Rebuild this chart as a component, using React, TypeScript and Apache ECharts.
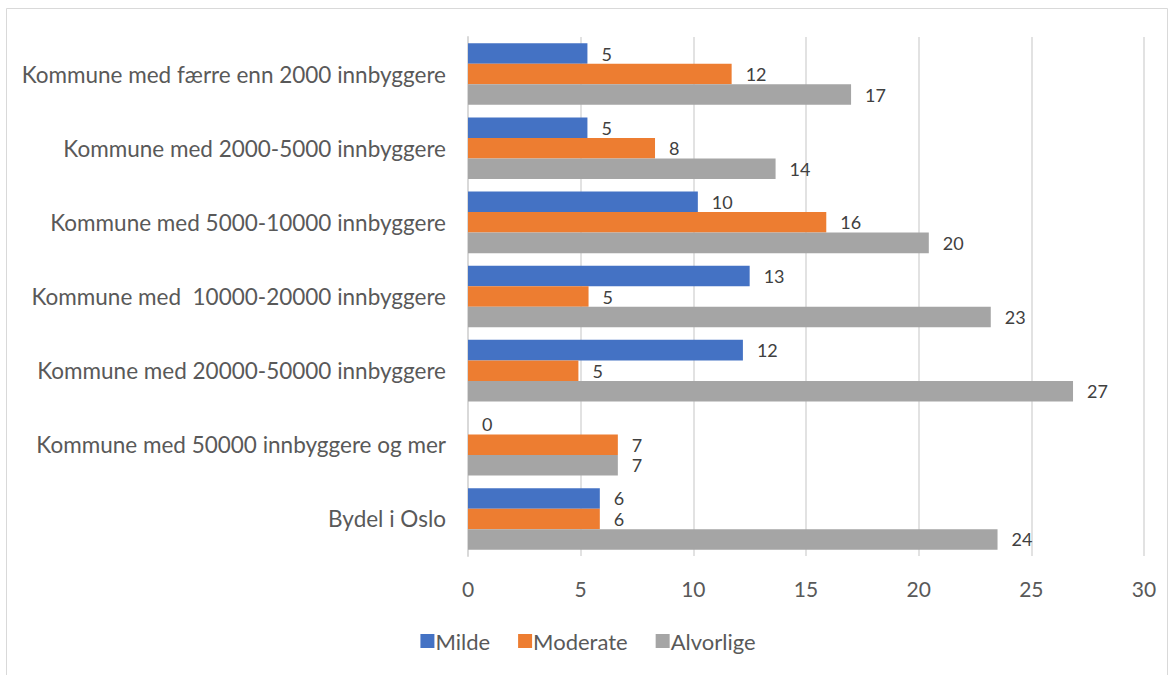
import React, { useEffect, useRef } from "react";
import * as echarts from "echarts";

const categories = [
  "Kommune med færre enn 2000 innbyggere",
  "Kommune med 2000-5000 innbyggere",
  "Kommune med 5000-10000 innbyggere",
  "Kommune med  10000-20000 innbyggere",
  "Kommune med 20000-50000 innbyggere",
  "Kommune med 50000 innbyggere og mer",
  "Bydel i Oslo",
];
const milde = [5.3, 5.3, 10.2, 12.5, 12.2, 0, 5.85];
const moderate = [11.7, 8.3, 15.9, 5.35, 4.9, 6.65, 5.85];
const alvorlige = [17.0, 13.65, 20.45, 23.2, 26.85, 6.65, 23.5];
const seriesNames = ["Milde", "Moderate", "Alvorlige"];
const colors = ["#4472C4", "#ED7D31", "#A5A5A5"];

const FONT = "Lato";

export default function App() {
  const ref = useRef<HTMLDivElement>(null);
  useEffect(() => {
    if (!ref.current) return;
    const chart = echarts.init(ref.current, undefined, { renderer: "svg" });
    const data = [milde, moderate, alvorlige];
    chart.setOption({
      animation: false,
      textStyle: { fontFamily: FONT },
      graphic: [
        {
          type: "rect",
          shape: { x: 6.5, y: 8.5, width: 1161, height: 700 },
          style: { fill: "none", stroke: "#d9d9d9", lineWidth: 1 },
          silent: true,
        },
      ],
      grid: { left: 468, right: 32, top: 37, bottom: 119, containLabel: false },
      legend: {
        bottom: 18,
        left: "center",
        itemWidth: 14,
        itemHeight: 14,
        itemGap: 28,
        icon: "rect",
        textStyle: { fontFamily: FONT, fontSize: 22, color: "#595959", padding: [0, 0, 0, -4] },
        data: seriesNames,
      },
      xAxis: {
        type: "value",
        min: 0,
        max: 30,
        interval: 5,
        axisLine: { show: false },
        axisTick: { show: false },
        splitLine: { lineStyle: { color: "#d9d9d9", width: 1.5 } },
        axisLabel: { fontFamily: FONT, fontSize: 21, color: "#595959", margin: 22 },
      },
      yAxis: {
        type: "category",
        inverse: true,
        data: categories,
        axisLine: { show: true, lineStyle: { color: "#d9d9d9", width: 2 } },
        axisTick: { show: false },
        axisLabel: { fontFamily: FONT, fontSize: 22.5, color: "#595959", margin: 22 },
      },
      series: data.map((d, i) => ({
        name: seriesNames[i],
        type: "bar",
        data: d,
        itemStyle: { color: colors[i] },
        barGap: "0%",
        barCategoryGap: "17%",
        label: {
          show: true,
          position: "right",
          distance: 14,
          fontFamily: FONT,
          fontSize: 18,
          lineHeight: 17,
          color: "#404040",
          formatter: (p: any) => String(Math.round(p.value)),
        },
      })),
    });
    return () => chart.dispose();
  }, []);
  return (
    <div
      ref={ref}
      style={{ position: "absolute", left: 0, top: 0, width: 1176, height: 675 }}
    />
  );
}
